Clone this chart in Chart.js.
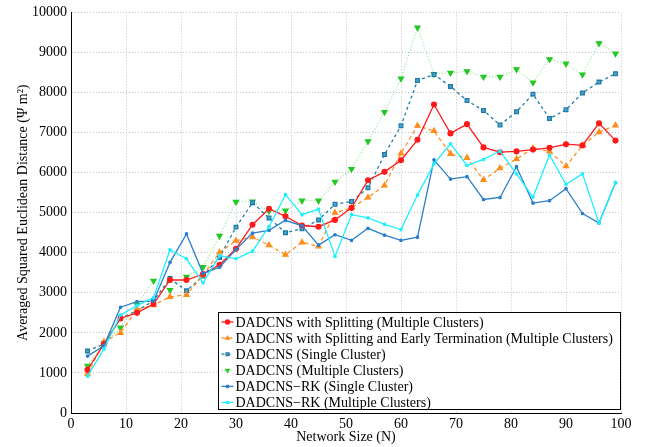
<!DOCTYPE html>
<html>
<head>
<meta charset="utf-8">
<script src="https://cdn.jsdelivr.net/npm/chart.js@4/dist/chart.umd.min.js"></script>
<style>
  html, body { margin: 0; padding: 0; background: #fff; }
  #wrap { width: 647px; height: 447px; }
</style>
</head>
<body>
<div id="wrap"><canvas id="plot" width="647" height="447"></canvas></div>
<script>
// ------- data -------
const networkSize = [3, 6, 9, 12, 15, 18, 21, 24, 27, 30, 33, 36, 39, 42, 45, 48, 51, 54, 57, 60, 63, 66, 69, 72, 75, 78, 81, 84, 87, 90, 93, 96, 99]

const splitMulti = [1080, 1720, 2360, 2500, 2720, 3320, 3320, 3470, 3700, 4100, 4700, 5100, 4910, 4680, 4650, 4820, 5120, 5810, 6020, 6310, 6820, 7700, 6980, 7210, 6630, 6510, 6530, 6575, 6620, 6710, 6680, 7230, 6800]
const splitEarlyMulti = [980, 1780, 2000, 2580, 2690, 2900, 2950, 3440, 4010, 4300, 4390, 4190, 3950, 4260, 4160, 5000, 5120, 5380, 5680, 6480, 7170, 7040, 6470, 6370, 5820, 6110, 6340, 6610, 6530, 6160, 6680, 7010, 7180]
const dadcnsSingle = [1550, 1720, 2370, 2550, 2800, 3360, 3050, 3420, 3880, 4640, 5250, 4870, 4500, 4600, 4820, 5210, 5280, 5620, 6450, 7170, 8300, 8450, 8150, 7800, 7550, 7190, 7520, 7960, 7350, 7570, 7990, 8260, 8470]
const dadcnsMulti = [1180, 1740, 2130, 2700, 3300, 3070, 3400, 3640, 4420, 5270, 5280, 5040, 5050, 5300, 5300, 5770, 6090, 6780, 7510, 8350, 9620, 8460, 8490, 8530, 8390, 8390, 8580, 8250, 8830, 8720, 8450, 9230, 8970]
const rkSingle = [1420, 1680, 2640, 2780, 2790, 3760, 4470, 3480, 3640, 4080, 4490, 4560, 4810, 4670, 4190, 4450, 4310, 4610, 4440, 4310, 4390, 6320, 5840, 5900, 5330, 5380, 6150, 5240, 5300, 5600, 4980, 4740, 5750]
const rkMulti = [920, 1600, 2450, 2680, 2880, 4070, 3850, 3250, 3930, 3850, 4040, 4650, 5450, 4950, 5090, 3910, 4950, 4870, 4710, 4580, 5440, 6220, 6720, 6180, 6330, 6540, 5970, 5390, 6440, 5710, 5970, 4740, 5760]

const seriesLabels = [
  'DADCNS with Splitting (Multiple Clusters)',
  'DADCNS with Splitting and Early Termination (Multiple Clusters)',
  'DADCNS (Single Cluster)',
  'DADCNS (Multiple Clusters)',
  'DADCNS\u2212RK (Single Cluster)',
  'DADCNS\u2212RK (Multiple Clusters)'
]

const xTicks = [0, 10, 20, 30, 40, 50, 60, 70, 80, 90, 100]
const yTicks = [0, 1000, 2000, 3000, 4000, 5000, 6000, 7000, 8000, 9000, 10000]

const FONT = 'Liberation Serif'

const pts = vals => vals.map((v, i) => ({ x: networkSize[i], y: v }))

const datasets = [{
  label: seriesLabels[0],
  data: pts(splitMulti),
  borderColor: '#ff1a1a',
  backgroundColor: '#ff1a1a',
  borderWidth: 1.3,
  pointStyle: 'circle',
  pointRadius: 2.4,
  order: 2
}, {
  label: seriesLabels[1],
  data: pts(splitEarlyMulti),
  borderColor: '#ff8c1a',
  backgroundColor: '#ff8c1a',
  borderWidth: 1.2,
  borderDash: [4, 3],
  pointStyle: 'triangle',
  pointRadius: 3,
  order: 3
}, {
  label: seriesLabels[2],
  data: pts(dadcnsSingle),
  borderColor: '#1f7ca8',
  backgroundColor: '#4fa6cc',
  pointBorderColor: '#1f7ca8',
  borderWidth: 1.3,
  borderDash: [3, 3],
  pointStyle: 'rect',
  pointRadius: 2.6,
  order: 4
}, {
  label: seriesLabels[3],
  data: pts(dadcnsMulti),
  borderColor: '#8fe68f',
  backgroundColor: '#22c822',
  pointBorderColor: '#22c822',
  borderWidth: 1.2,
  borderDash: [1, 2],
  pointStyle: 'triangle',
  pointRotation: 180,
  pointRadius: 3,
  order: 5
}, {
  label: seriesLabels[4],
  data: pts(rkSingle),
  borderColor: '#2b7fcc',
  backgroundColor: '#2b7fcc',
  borderWidth: 1.3,
  pointStyle: 'circle',
  pointRadius: 1.2,
  order: 1
}, {
  label: seriesLabels[5],
  data: pts(rkMulti),
  borderColor: '#1ff0ff',
  backgroundColor: '#1ff0ff',
  borderWidth: 1.3,
  pointStyle: 'circle',
  pointRadius: 1.2,
  order: 0
}]

//    ------- legend drawn inside the plot, bottom right ----------
const boxLegend = {
  id: 'boxLegend',
  afterDraw(chart) {
    const c = chart.ctx
    const area = chart.chartArea
    const w = 402, h = 97
    const x0 = area.right - w - 0.5, y0 = area.bottom - h - 3.5
    c.save()
    c.fillStyle = '#fff'
    c.fillRect(x0, y0, w, h)
    c.strokeStyle = '#000'
    c.lineWidth = 1
    c.strokeRect(x0, y0, w, h)
    c.font = '14px "' + FONT + '"'
    c.textBaseline = 'middle'
    chart.data.datasets.forEach((ds, i) => {
      const y = y0 + 9.5 + i * 16.1
      c.strokeStyle = ds.borderColor
      c.lineWidth = ds.borderWidth
      c.setLineDash(ds.borderDash || [])
      c.beginPath()
      c.moveTo(x0 + 3, y)
      c.lineTo(x0 + 15, y)
      c.stroke()
      c.setLineDash([])
      c.fillStyle = ds.backgroundColor
      c.strokeStyle = ds.pointBorderColor || ds.borderColor
      Chart.helpers.drawPoint(c, {
        pointStyle: ds.pointStyle,
        radius: Math.min(ds.pointRadius, 2),
        rotation: ds.pointRotation || 0,
        borderWidth: 1
      }, x0 + 9, y)
      c.fillStyle = '#000'
      c.fillText(ds.label, x0 + 17, y + 1)
    })
    c.restore()
  }
}

const plain = v => String(v)

const ctx = document.getElementById('plot').getContext('2d')
const chart = new Chart(ctx, {
  type: 'line',
  data: { datasets },
  plugins: [boxLegend],
  options: {
    responsive: false,
    animation: false,
    layout: { padding: { top: 6, right: 26, left: 0, bottom: 0 } },
    elements: { line: { tension: 0 } },
    plugins: {
      legend: { display: false },
      tooltip: { enabled: false }
    },
    scales: {
      x: {
        type: 'linear',
        min: 0,
        max: 100,
        afterFit: s => { s.height = 34 },
        afterBuildTicks: s => { s.ticks = xTicks.map(v => ({ value: v })) },
        grid: { color: '#c4c4c4', drawTicks: false },
        border: { color: '#000', width: 1, dash: [1, 2] },
        ticks: { color: '#000', padding: 3, callback: plain, font: { family: FONT, size: 14 } },
        title: {
          display: true,
          text: 'Network Size (N)',
          color: '#000',
          padding: { top: 0, bottom: 1 },
          font: { family: FONT, size: 14 }
        }
      },
      y: {
        min: 0,
        max: 10000,
        afterFit: s => { s.width = 71 },
        afterBuildTicks: s => { s.ticks = yTicks.map(v => ({ value: v })) },
        grid: { color: '#c4c4c4', drawTicks: false },
        border: { color: '#000', width: 1, dash: [1, 2] },
        ticks: { color: '#000', padding: 4, callback: plain, font: { family: FONT, size: 14 } },
        title: {
          display: true,
          text: 'Averaged Squared Euclidean Distance (\u03A8 m\u00B2)',
          color: '#000',
          padding: { top: 15, bottom: 0 },
          font: { family: FONT, size: 14 }
        }
      }
    }
  }
})
</script>
</body>
</html>
